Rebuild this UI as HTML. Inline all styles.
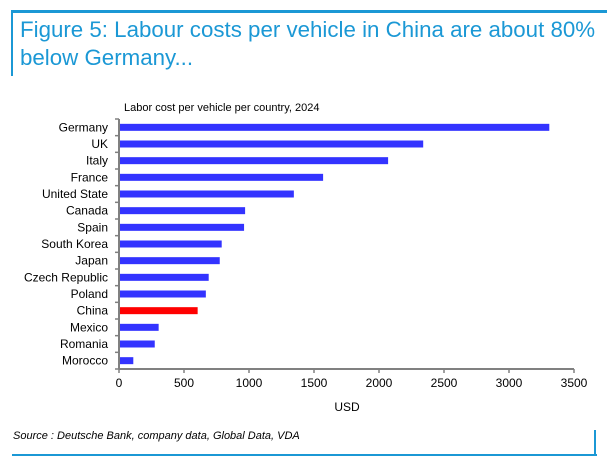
<!DOCTYPE html>
<html><head><meta charset="utf-8"><style>
body{margin:0;width:607px;height:463px;background:#fff;font-family:"Liberation Sans",sans-serif;position:relative;overflow:hidden}
.t{position:absolute;left:20px;top:16px;font-size:22.3px;line-height:28px;color:#1b98d5;white-space:nowrap}
</style></head><body>
<div style="position:absolute;left:11px;top:10px;width:596px;height:3px;background:#1b98d5"></div>
<div style="position:absolute;left:11px;top:10px;width:2px;height:66px;background:#1b98d5"></div>
<div class="t">Figure 5: Labour costs per vehicle in China are about 80%<br>below Germany...</div>
<svg width="607" height="463" style="position:absolute;left:0;top:0">
<g id="g" font-family="Liberation Sans, sans-serif" font-size="12" fill="#000"></g>
</svg>
<div style="position:absolute;left:13px;top:430px;font-size:11px;font-style:italic;color:#000">Source : Deutsche Bank, company data, Global Data, VDA</div>
<div style="position:absolute;left:12px;top:454px;width:585px;height:2px;background:#1b98d5"></div>
<div style="position:absolute;left:594px;top:430px;width:2px;height:26px;background:#1b98d5"></div>
<script>
const categories=["Germany","UK","Italy","France","United State","Canada","Spain","South Korea","Japan","Czech Republic","Poland","China","Mexico","Romania","Morocco"];
const values=[3310,2340,2070,1570,1345,970,962,790,775,690,668,605,305,275,110];
const xTicks=[0,500,1000,1500,2000,2500,3000,3500];
const highlight="China";
const NS="http://www.w3.org/2000/svg";
const g=document.getElementById('g');
const X0=119,X1=574,PT=119,PB=369;
const xs=v=>X0+(v/3500)*(X1-X0);
const band=(PB-PT)/categories.length;
const yc=i=>PT+band*(i+0.5);
function mk(t,a){const e=document.createElementNS(NS,t);for(const k in a)e.setAttribute(k,a[k]);g.appendChild(e);return e;}
let e=mk('text',{x:124,y:111,'font-size':11});e.textContent="Labor cost per vehicle per country, 2024";


categories.forEach((c,i)=>{
 const r=mk('rect',{x:X0,y:yc(i)-3.5,width:xs(values[i])-X0,height:7,fill:c===highlight?'#ff0000':'#3333ff'});
 
 
 const t=mk('text',{x:X0-11,y:yc(i)+4,'text-anchor':'end'});t.textContent=c;
 
 
});
for(let i=0;i<=categories.length;i++){mk('line',{x1:X0-4,x2:X0,y1:PT+band*i,y2:PT+band*i,stroke:'#808080','stroke-width':1.5});}
let a=mk('line',{x1:X0,x2:X0,y1:PT,y2:PB,stroke:'#808080','stroke-width':2});


a=mk('line',{x1:X0,x2:X1,y1:PB,y2:PB,stroke:'#808080','stroke-width':2});


xTicks.forEach(v=>{mk('line',{x1:xs(v),x2:xs(v),y1:PB,y2:PB+4,stroke:'#808080','stroke-width':1.5});
 const t=mk('text',{x:xs(v),y:PB+18,'text-anchor':'middle'});t.textContent=v;
 
 });
e=mk('text',{x:347,y:411,'text-anchor':'middle'});e.textContent="USD";


</script>
</body></html>
